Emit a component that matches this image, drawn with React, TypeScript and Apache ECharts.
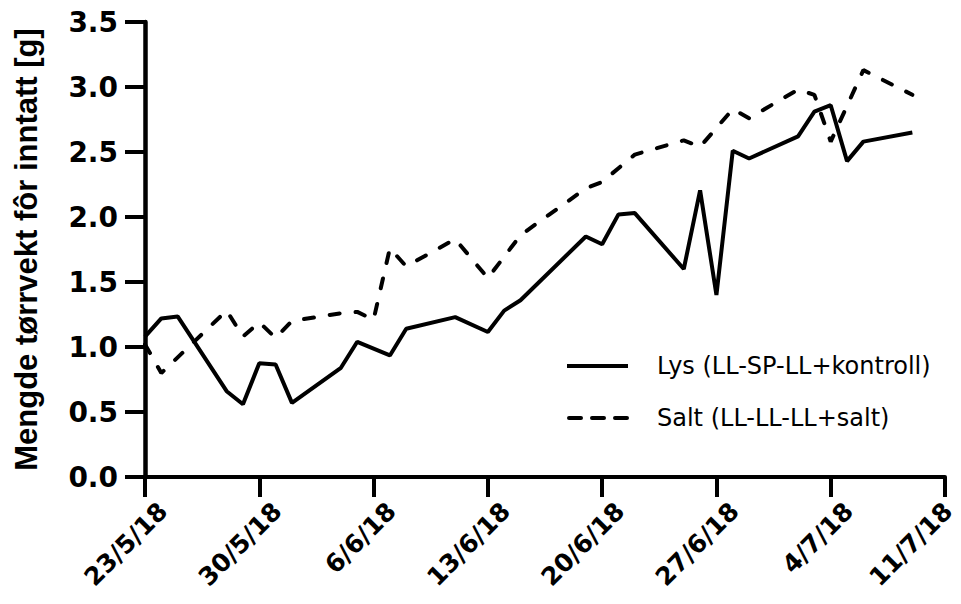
import React, { useEffect, useRef } from "react";
import * as echarts from "echarts";

const startDate = "2018-05-23";
const xTickLabels = ["23/5/18", "30/5/18", "6/6/18", "13/6/18", "20/6/18", "27/6/18", "4/7/18", "11/7/18"];
const xTickStep = 7;
const yTickLabels = ["0.0", "0.5", "1.0", "1.5", "2.0", "2.5", "3.0", "3.5"];

const lysName = "Lys (LL-SP-LL+kontroll)";
const lysDates = [
  "2018-05-23", "2018-05-24", "2018-05-25", "2018-05-28", "2018-05-29", "2018-05-30", "2018-05-31",
  "2018-06-01", "2018-06-04", "2018-06-05", "2018-06-07", "2018-06-08", "2018-06-11", "2018-06-13",
  "2018-06-14", "2018-06-15", "2018-06-19", "2018-06-20", "2018-06-21", "2018-06-22", "2018-06-25",
  "2018-06-26", "2018-06-27", "2018-06-28", "2018-06-29", "2018-07-02", "2018-07-03", "2018-07-04",
  "2018-07-05", "2018-07-06", "2018-07-09",
];
const lysValues = [
  1.08, 1.22, 1.235, 0.66, 0.56, 0.875, 0.865,
  0.57, 0.84, 1.04, 0.935, 1.14, 1.23, 1.115,
  1.28, 1.36, 1.85, 1.79, 2.02, 2.03, 1.6,
  2.205, 1.4, 2.51, 2.45, 2.62, 2.81, 2.86,
  2.43, 2.58, 2.65,
];

const saltName = "Salt (LL-LL-LL+salt)";
const saltDates = [
  "2018-05-23", "2018-05-24", "2018-05-28", "2018-05-29", "2018-05-30", "2018-05-31", "2018-06-01",
  "2018-06-04", "2018-06-05", "2018-06-06", "2018-06-07", "2018-06-08", "2018-06-11", "2018-06-13",
  "2018-06-15", "2018-06-19", "2018-06-20", "2018-06-22", "2018-06-25", "2018-06-26", "2018-06-28",
  "2018-06-29", "2018-07-02", "2018-07-03", "2018-07-04", "2018-07-06", "2018-07-09",
];
const saltValues = [
  1.02, 0.8, 1.28, 1.08, 1.19, 1.07, 1.2,
  1.26, 1.27, 1.21, 1.76, 1.62, 1.83, 1.53,
  1.86, 2.22, 2.27, 2.48, 2.59, 2.54, 2.83,
  2.76, 2.98, 2.94, 2.58, 3.13, 2.94,
];

const DAY = 86400000;
const toDay = (s: string) => {
  const [y, m, d] = s.split("-").map(Number);
  const [y0, m0, d0] = startDate.split("-").map(Number);
  return Math.round((Date.UTC(y, m - 1, d) - Date.UTC(y0, m0 - 1, d0)) / DAY);
};
const pairs = (dates: string[], vals: number[]) => dates.map((d, i) => [toDay(d), vals[i]]);

export default function App() {
  const ref = useRef<HTMLDivElement>(null);
  useEffect(() => {
    if (!ref.current) return;
    const chart = echarts.init(ref.current, undefined, { renderer: "svg" });
    const black = "#000";
    chart.setOption({
      animation: false,
      backgroundColor: "#fff",
      grid: { left: 145, right: 16, top: 22, bottom: 127, containLabel: false },
      xAxis: {
        type: "value",
        min: 0,
        max: (xTickLabels.length - 1) * xTickStep,
        interval: xTickStep,
        splitLine: { show: false },
        axisLine: { show: true, onZero: false, lineStyle: { color: black, width: 4 } },
        axisTick: { show: true, length: 20, lineStyle: { color: black, width: 4 } },
        axisLabel: { show: false },
      },
      yAxis: {
        type: "value",
        min: 0,
        max: 3.5,
        interval: 0.5,
        name: "Mengde tørrvekt fôr inntatt [g]",
        nameLocation: "middle",
        nameGap: 103,
        nameTextStyle: {
          fontFamily: "Liberation Sans",
          fontWeight: "bold",
          fontSize: 31,
          color: black,
        },
        splitLine: { show: false },
        axisLine: { show: true, lineStyle: { color: black, width: 4.5 } },
        axisTick: { show: true, length: 20, lineStyle: { color: black, width: 4 } },
        axisLabel: {
          margin: 27,
          color: black,
          fontFamily: "DejaVu Sans",
          fontWeight: "bold",
          fontSize: 28,
          formatter: (v: number) => yTickLabels[Math.round(v / 0.5)] ?? "",
        },
      },
      series: [
        {
          name: lysName,
          type: "line",
          data: pairs(lysDates, lysValues),
          symbol: "none",
          showSymbol: false,
          lineStyle: { color: black, width: 4 },
          itemStyle: { color: black },
        },
        {
          name: saltName,
          type: "line",
          data: pairs(saltDates, saltValues),
          symbol: "none",
          showSymbol: false,
          lineStyle: { color: black, width: 4, type: [10, 16], cap: "round" },
          itemStyle: { color: black },
        },
      ],
    });

    const axisY = chart.convertToPixel({ yAxisIndex: 0 }, 0) as number;
    const chartW = chart.getWidth();
    const tickTexts = xTickLabels.map((label, i) => {
      const px = chart.convertToPixel({ xAxisIndex: 0 }, i * xTickStep) as number;
      return {
        type: "text",
        x: Math.min(px + 18, chartW - 13),
        y: axisY + 30,
        rotation: Math.PI / 4,
        style: {
          text: label,
          fontFamily: "DejaVu Sans",
          fontWeight: "bold",
          fontSize: 25,
          fill: black,
          align: "right",
          verticalAlign: "middle",
        },
      };
    });
    const legendText = {
      fontFamily: "DejaVu Sans",
      fontSize: 24,
      fill: black,
      verticalAlign: "middle",
      align: "left",
    };
    chart.setOption({
      graphic: [
        {
          type: "line",
          shape: { x1: 567, y1: 366, x2: 628, y2: 366 },
          style: { stroke: black, lineWidth: 4 },
        },
        { type: "text", x: 657, y: 366, style: { ...legendText, text: lysName } },
        {
          type: "line",
          shape: { x1: 569, y1: 418, x2: 628, y2: 418 },
          style: { stroke: black, lineWidth: 4, lineDash: [12, 11], lineCap: "round" },
        },
        { type: "text", x: 657, y: 418, style: { ...legendText, text: saltName } },
        ...tickTexts,
      ],
    });
    return () => chart.dispose();
  }, []);
  return (
    <div
      ref={ref}
      style={{ position: "fixed", left: 0, top: 0, width: 961, height: 604, background: "#fff" }}
    />
  );
}
